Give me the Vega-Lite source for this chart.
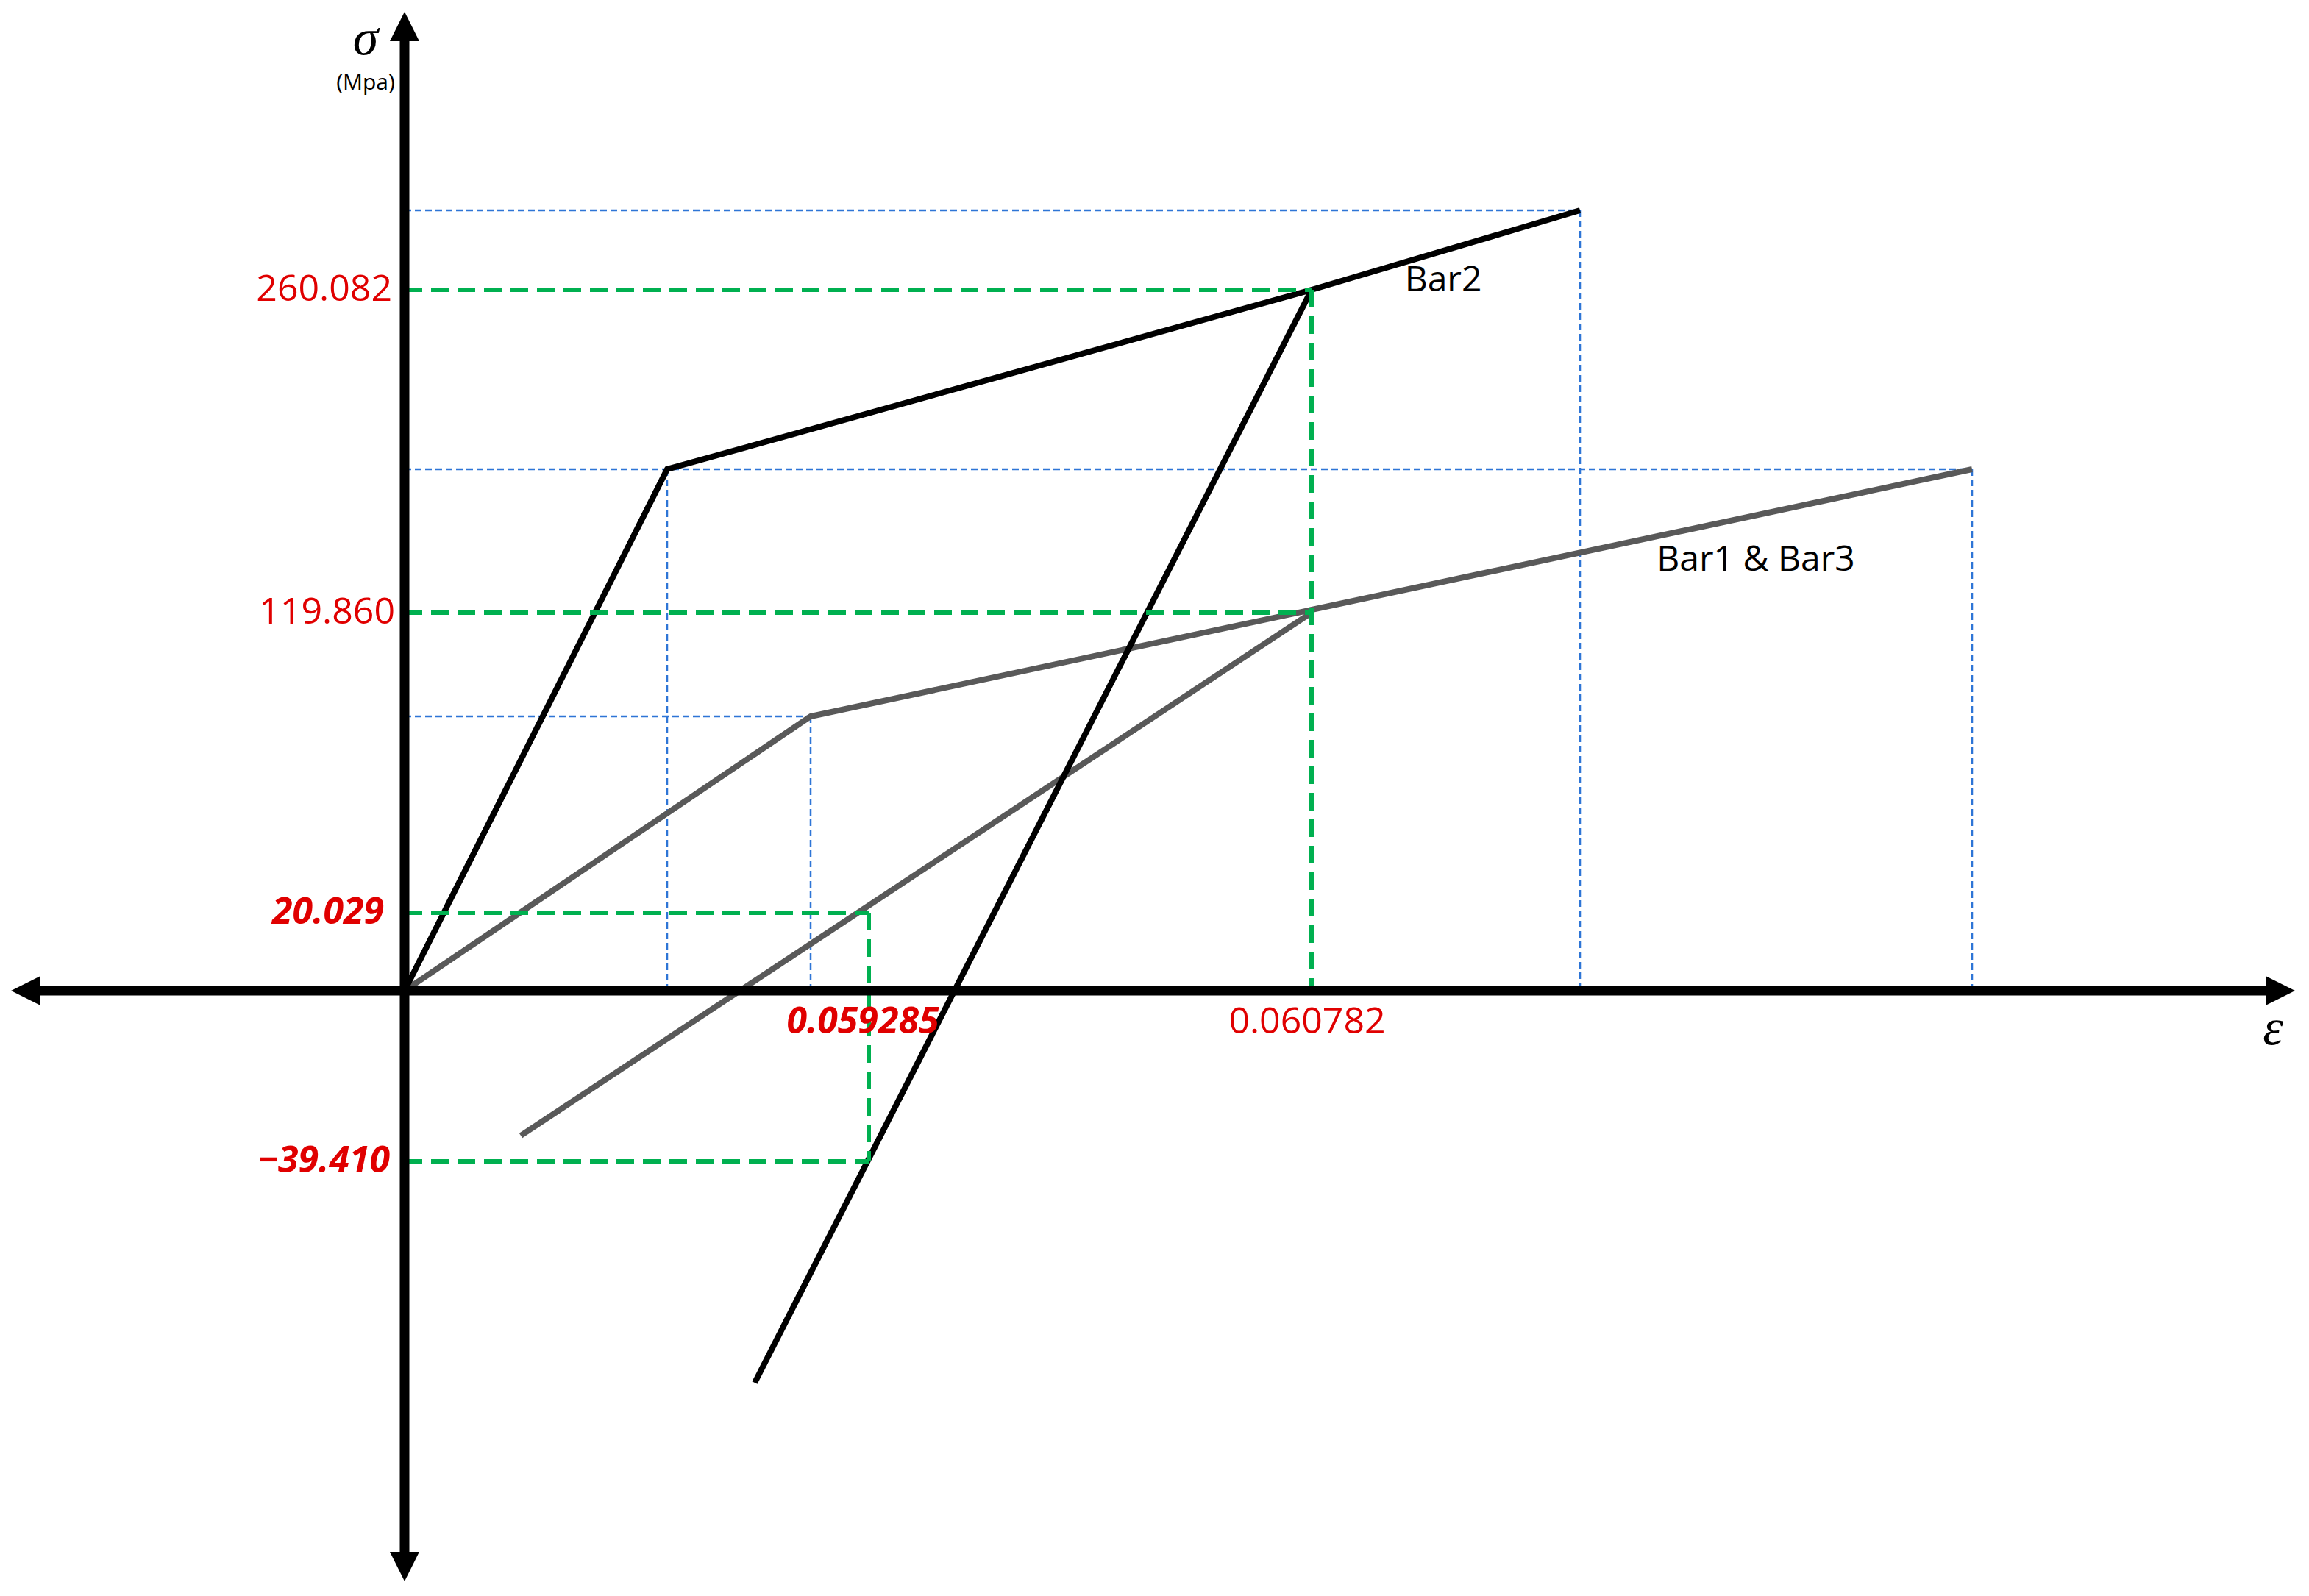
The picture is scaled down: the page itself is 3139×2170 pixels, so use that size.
{
  "$schema": "https://vega.github.io/schema/vega-lite/v6.json",
  "width": 3139,
  "height": 2170,
  "padding": 0,
  "autosize": {"type": "fit", "contains": "padding"},
  "background": "white",
  "config": {"view": {"stroke": null}},
  "encoding": {
    "x": {"field": "x", "type": "quantitative", "scale": {"domain": [-550, 2589], "nice": false, "zero": false}, "axis": null},
    "y": {"field": "y", "type": "quantitative", "scale": {"domain": [-823, 1347], "nice": false, "zero": false}, "axis": null}
  },
  "layer": [
    {
      "data": {"values": [
        {"x": 0, "y": 1061, "x2": 1598, "y2": 1061},
        {"x": 1598, "y": 1061, "x2": 1598, "y2": 0},
        {"x": 0, "y": 709, "x2": 2131, "y2": 709},
        {"x": 2131, "y": 709, "x2": 2131, "y2": 0},
        {"x": 357, "y": 709, "x2": 357, "y2": 0},
        {"x": 0, "y": 373, "x2": 552, "y2": 373},
        {"x": 552, "y": 373, "x2": 552, "y2": 0}
      ]},
      "mark": {"type": "rule", "color": "#2E75D6", "strokeWidth": 2.5, "strokeDash": [9, 5]},
      "encoding": {"x2": {"field": "x2"}, "y2": {"field": "y2"}}
    },
    {
      "data": {"values": [
        {"seg": "bar13_load", "i": 0, "x": 0, "y": 0},
        {"seg": "bar13_load", "i": 1, "x": 552, "y": 373},
        {"seg": "bar13_load", "i": 2, "x": 2131, "y": 709},
        {"seg": "bar13_unload", "i": 0, "x": 1233, "y": 514},
        {"seg": "bar13_unload", "i": 1, "x": 158, "y": -197}
      ]},
      "mark": {"type": "line", "color": "#595959", "strokeWidth": 8, "strokeJoin": "miter"},
      "encoding": {"detail": {"field": "seg"}, "order": {"field": "i", "type": "quantitative"}}
    },
    {
      "data": {"values": [
        {"seg": "bar2_load", "i": 0, "x": 0, "y": 0},
        {"seg": "bar2_load", "i": 1, "x": 357, "y": 709},
        {"seg": "bar2_load", "i": 2, "x": 1233, "y": 953},
        {"seg": "bar2_load", "i": 3, "x": 1598, "y": 1061},
        {"seg": "bar2_unload", "i": 0, "x": 1233, "y": 953},
        {"seg": "bar2_unload", "i": 1, "x": 476, "y": -533}
      ]},
      "mark": {"type": "line", "color": "#000000", "strokeWidth": 8, "strokeJoin": "miter"},
      "encoding": {"detail": {"field": "seg"}, "order": {"field": "i", "type": "quantitative"}}
    },
    {
      "data": {"values": [
        {"x": 0, "y": 953, "x2": 1233, "y2": 953},
        {"x": 1233, "y": 953, "x2": 1233, "y2": 0},
        {"x": 0, "y": 514, "x2": 1233, "y2": 514},
        {"x": 0, "y": 106, "x2": 631, "y2": 106},
        {"x": 631, "y": 106, "x2": 631, "y2": -232},
        {"x": 0, "y": -232, "x2": 631, "y2": -232}
      ]},
      "mark": {"type": "rule", "color": "#00B050", "strokeWidth": 6, "strokeDash": [24, 12]},
      "encoding": {"x2": {"field": "x2"}, "y2": {"field": "y2"}}
    },
    {
      "data": {"values": [
        {"x": 0, "y": -763, "x2": 0, "y2": 1292},
        {"x": -495, "y": 0, "x2": 2530, "y2": 0}
      ]},
      "mark": {"type": "rule", "color": "#000000", "strokeWidth": 13},
      "encoding": {"x2": {"field": "x2"}, "y2": {"field": "y2"}}
    },
    {
      "data": {"values": [
        {"dir": "up", "x": 0, "y": 1311},
        {"dir": "down", "x": 0, "y": -783},
        {"dir": "right", "x": 2550, "y": 0},
        {"dir": "left", "x": -515, "y": 0}
      ]},
      "mark": {"type": "point", "filled": true, "color": "#000000", "opacity": 1, "size": 1600},
      "encoding": {
        "shape": {"field": "dir", "type": "nominal", "legend": null,
          "scale": {"domain": ["up", "down", "right", "left"],
                    "range": ["M0,-1L1,1L-1,1Z", "M0,1L1,-1L-1,-1Z", "M1,0L-1,-1L-1,1Z", "M-1,0L1,-1L1,1Z"]}}
      }
    },
    {
      "data": {"values": [
        {"x": -17, "y": 953, "label": "260.082"},
        {"x": -13, "y": 514, "label": "119.860"}
      ]},
      "mark": {"type": "text", "align": "right", "baseline": "middle", "font": "Open Sans", "fontSize": 50, "color": "#E00000"},
      "encoding": {"text": {"field": "label"}}
    },
    {
      "data": {"values": [
        {"x": -28, "y": 106, "label": "20.029"},
        {"x": -20, "y": -232, "label": "−39.410"}
      ]},
      "mark": {"type": "text", "align": "right", "baseline": "middle", "font": "Open Sans", "fontSize": 50, "fontWeight": "bold", "fontStyle": "italic", "color": "#E00000"},
      "encoding": {"text": {"field": "label"}}
    },
    {
      "data": {"values": [
        {"x": 623, "y": -43, "label": "0.059285"}
      ]},
      "mark": {"type": "text", "align": "center", "baseline": "middle", "font": "Open Sans", "fontSize": 50, "fontWeight": "bold", "fontStyle": "italic", "color": "#E00000"},
      "encoding": {"text": {"field": "label"}}
    },
    {
      "data": {"values": [
        {"x": 1227, "y": -43, "label": "0.060782"}
      ]},
      "mark": {"type": "text", "align": "center", "baseline": "middle", "font": "Open Sans", "fontSize": 50, "color": "#E00000"},
      "encoding": {"text": {"field": "label"}}
    },
    {
      "data": {"values": [
        {"x": 1412, "y": 965, "label": "Bar2"},
        {"x": 1837, "y": 585, "label": "Bar1 & Bar3"}
      ]},
      "mark": {"type": "text", "align": "center", "baseline": "middle", "font": "Open Sans", "fontSize": 48, "color": "#000000"},
      "encoding": {"text": {"field": "label"}}
    },
    {
      "data": {"values": [
        {"x": -53, "y": 1234, "label": "(Mpa)"}
      ]},
      "mark": {"type": "text", "align": "center", "baseline": "middle", "font": "Open Sans", "fontSize": 30, "color": "#000000"},
      "encoding": {"text": {"field": "label"}}
    },
    {
      "data": {"values": [
        {"x": -53, "y": 1294, "label": "σ"},
        {"x": 2540, "y": -52, "label": "ε"}
      ]},
      "mark": {"type": "text", "align": "center", "baseline": "middle", "font": "Liberation Serif", "fontSize": 70, "fontStyle": "italic", "color": "#000000"},
      "encoding": {"text": {"field": "label"}}
    }
  ]
}
